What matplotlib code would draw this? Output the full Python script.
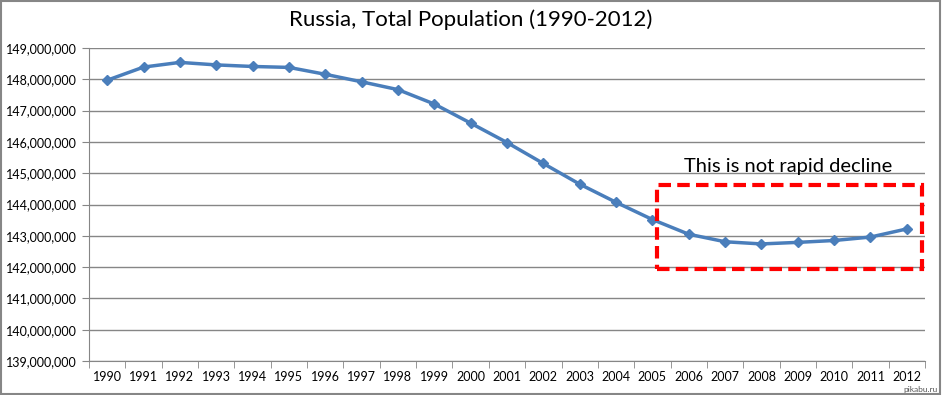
import numpy as np
import matplotlib.pyplot as plt
from matplotlib.patches import Rectangle

years = list(range(1990, 2013))
population = [147.97, 148.39, 148.54, 148.46, 148.41, 148.38, 148.16, 147.92,
              147.67, 147.21, 146.60, 145.98, 145.31, 144.65, 144.07, 143.52,
              143.05, 142.81, 142.74, 142.79, 142.85, 142.96, 143.22]
population = [p * 1e6 for p in population]

plt.rcParams['font.family'] = ['Lato', 'DejaVu Sans']

fig = plt.figure(figsize=(9.42, 3.95), dpi=100)
ax = fig.add_axes([89 / 942, 1 - 361 / 395, (925 - 89) / 942, (361 - 48) / 395])

x = np.arange(len(years))
ax.plot(x, population, color='#4a7ebb', lw=2.5, marker='D', ms=5.5, zorder=3)

ax.set_xlim(-0.5, len(years) - 0.5)
ax.set_ylim(139e6, 149e6)
yt = np.arange(139e6, 149e6 + 1, 1e6)
ax.set_yticks(yt)
ax.set_yticklabels(['{:,.0f}'.format(v) for v in yt], fontsize=9)
ax.set_xticks(x)
ax.set_xticklabels([str(y) for y in years], fontsize=9)
ax.set_xticks(np.arange(-0.5, len(years), 1), minor=True)
ax.tick_params(axis='x', which='major', length=0, pad=7)
ax.tick_params(axis='x', which='minor', length=5, color='#868686')
ax.tick_params(axis='y', length=5, color='#868686', pad=4)
ax.grid(axis='y', color='#868686', lw=1)
ax.set_axisbelow(True)
for s in ['top', 'right']:
    ax.spines[s].set_visible(False)
for s in ['left', 'bottom']:
    ax.spines[s].set_color('#868686')

fig.text(0.5, 1 - 20 / 395, 'Russia, Total Population (1990-2012)', fontsize=16,
         ha='center', va='center')

# red dashed annotation box
ax.add_patch(Rectangle((15.13, 141.94e6), 22.41 - 15.13, 144.62e6 - 141.94e6,
                       fill=False, ec='red', lw=3, ls=(0, (3, 1.5)), zorder=4, clip_on=False))
ax.text(18.73, 145.22e6, 'This is not rapid decline', fontsize=14.5, ha='center', va='center')

fig.add_artist(Rectangle((0.001, 0.002), 0.997, 0.995, transform=fig.transFigure,
                         fill=False, ec='#868686', lw=1.5))
fig.text(0.995, 0.006, 'pikabu.ru', fontsize=6, ha='right', va='bottom', color='#555555')

fig.savefig('out.png', dpi=100)
